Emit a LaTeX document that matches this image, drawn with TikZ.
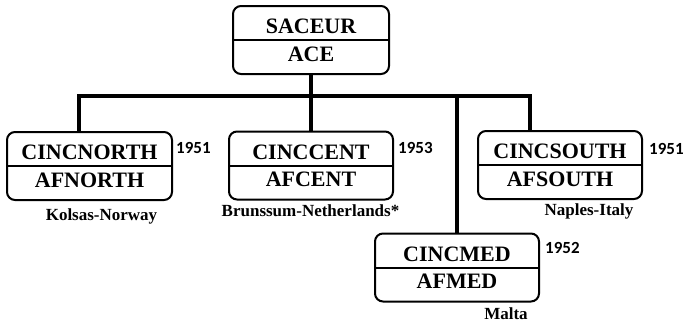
\documentclass[tikz,border=0pt]{standalone}
\usepackage{fontspec}
\setmainfont{Liberation Serif}
\newfontfamily\yearfont{Carlito}
\begin{document}
\begin{tikzpicture}[x=1pt,y=-1pt,
  box/.style={draw, line width=2pt, rounded corners=8pt, minimum width=164pt, minimum height=68pt, inner sep=0pt},
  boxtxt/.style={anchor=base, inner sep=0pt, font=\fontsize{22}{24}\selectfont\bfseries},
  loc/.style={anchor=base, inner sep=0pt, font=\fontsize{17}{19}\selectfont\bfseries},
  yr/.style={anchor=base west, inner sep=0pt, font=\yearfont\fontsize{17}{19}\selectfont\bfseries},
  conn/.style={line width=4pt},
  divider/.style={line width=2pt}]
\useasboundingbox (0,0) rectangle (686,324);

% boxes
\node[box, minimum width=156pt] (sac) at (311,40) {};
\node[box, minimum width=165pt] (nor) at (89.5,166) {};
\node[box] (cen) at (311,165.5) {};
\node[box] (sou) at (560,165) {};
\node[box] (med) at (457,267.5) {};

% dividers
\foreach \b in {sac,nor,cen,sou,med}
  \draw[divider] (\b.west) -- (\b.east);

% box texts
\node[boxtxt] (sacT) at (311,33.5) {SACEUR};
\node[boxtxt] (sacB) at (311,61.5) {ACE};
\node[boxtxt] (norT) at (89.5,159.5) {CINCNORTH};
\node[boxtxt] (norB) at (89.5,187) {AFNORTH};
\node[boxtxt] (cenT) at (311,159) {CINCCENT};
\node[boxtxt] (cenB) at (311,186.5) {AFCENT};
\node[boxtxt] (souT) at (560,158.5) {CINCSOUTH};
\node[boxtxt] (souB) at (560,186) {AFSOUTH};
\node[boxtxt] (medT) at (457,261) {CINCMED};
\node[boxtxt] (medB) at (457,288.5) {AFMED};

% years
\node[yr] (norY) at (176,153) {1951};
\node[yr] (cenY) at (398,153) {1953};
\node[yr] (souY) at (649,154) {1951};
\node[yr] (medY) at (545,253) {1952};

% locations
\node[loc] (norL) at (101.5,220) {Kolsas-Norway};
\node[loc] (cenL) at (310.5,216.5) {Brunssum-Netherlands*};
\node[loc] (souL) at (589,215.5) {Naples-Italy};
\node[loc] (medL) at (506,319) {Malta};

% connectors
\coordinate (jn) at (79,96);
\coordinate (js) at (530,96);
\coordinate (jm) at (457,96);
\draw[conn] (nor.north -| jn) -- (jn) -- (js) -- (js |- sou.north);
\draw[conn] (sac.south) -- (cen.north);
\draw[conn] (jm) -- (med.north);
\end{tikzpicture}
\end{document}
